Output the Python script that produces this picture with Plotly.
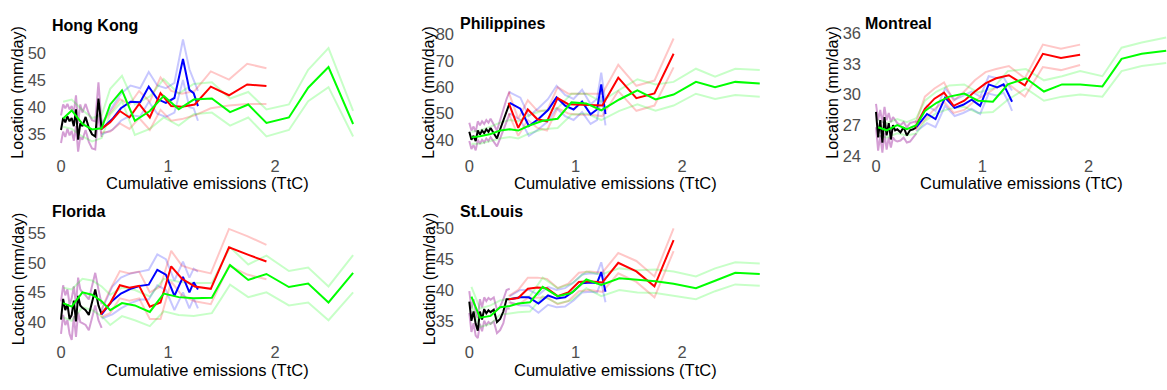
import plotly.graph_objects as go

W, H = 1167, 390

# ---------------- shared x grids (cumulative emissions, TtC) ----------------
hist_x = [0.0, 0.02, 0.04, 0.06, 0.08, 0.1, 0.12, 0.14, 0.16, 0.18, 0.2, 0.23, 0.26, 0.29, 0.32, 0.35, 0.38]
blue_x = [0.38, 0.48, 0.56, 0.65, 0.74, 0.82, 0.9, 0.98, 1.06, 1.14, 1.2, 1.24, 1.28]
red_x = [0.37, 0.46, 0.55, 0.64, 0.73, 0.83, 0.93, 1.03, 1.13, 1.25, 1.40, 1.57, 1.74, 1.92]
green_x = [0.02, 0.1, 0.2, 0.29, 0.38, 0.46, 0.57, 0.69, 0.83, 0.96, 1.1, 1.24, 1.41, 1.58, 1.75, 1.92, 2.13, 2.31, 2.5, 2.73]

# ---------------- Hong Kong ----------------
hk_hist = [35.8, 38.0, 37.2, 38.3, 37.4, 38.0, 36.5, 39.6, 34.0, 37.0, 36.5, 38.2, 36.2, 35.0, 34.6, 41.6, 35.9]
hk_hist_hi = [38.5, 40.5, 39.8, 40.6, 39.6, 40.2, 39.0, 42.2, 37.0, 40.5, 39.0, 40.6, 38.8, 37.6, 37.4, 44.6, 37.0]
hk_hist_lo = [33.4, 35.5, 34.5, 36.0, 34.8, 35.6, 33.8, 36.5, 31.8, 34.5, 34.0, 35.8, 33.6, 32.4, 32.2, 38.8, 34.5]
hk_blue = [36.0, 37.8, 39.8, 41.0, 40.9, 43.8, 41.5, 40.8, 41.7, 48.9, 43.2, 42.6, 40.2]
hk_blue_hi = [37.0, 40.0, 42.5, 44.0, 43.5, 46.5, 44.0, 43.5, 44.5, 52.5, 47.0, 45.0, 43.0]
hk_blue_lo = [35.0, 35.8, 37.5, 38.5, 38.3, 41.0, 38.8, 38.2, 39.0, 45.0, 40.0, 39.8, 37.5]
hk_red = [35.9, 37.2, 39.3, 38.1, 40.6, 38.1, 42.6, 40.2, 40.1, 40.5, 43.8, 42.2, 44.2, 43.9]
hk_red_hi = [36.5, 39.0, 41.5, 40.5, 43.0, 41.0, 45.5, 43.0, 42.5, 43.0, 46.6, 45.1, 48.0, 47.2]
hk_red_lo = [35.3, 35.5, 37.0, 36.0, 38.0, 35.8, 39.5, 37.5, 37.8, 38.5, 39.8, 40.3, 40.6, 40.6]
hk_green = [37.9, 39.4, 36.9, 35.9, 36.1, 40.5, 43.1, 37.5, 39.3, 42.1, 39.6, 41.4, 41.6, 39.1, 40.5, 37.1, 38.1, 43.6, 47.4, 36.9]
hk_green_hi = [41.0, 41.4, 39.5, 38.0, 38.5, 43.4, 45.8, 40.5, 42.0, 45.2, 42.5, 44.3, 44.6, 41.6, 42.8, 39.6, 40.5, 46.9, 50.9, 39.3]
hk_green_lo = [36.4, 36.0, 34.6, 33.7, 34.3, 38.7, 41.1, 34.9, 36.0, 38.1, 36.6, 38.7, 39.0, 36.6, 38.1, 34.6, 35.8, 41.1, 43.7, 34.6]

# ---------------- Philippines ----------------
ph_hist = [43.0, 40.0, 41.5, 39.5, 43.5, 42.0, 43.5, 42.5, 44.0, 43.0, 44.5, 42.5, 40.5, 44.0, 47.5, 51.0, 54.0]
ph_hist_hi = [46.5, 43.5, 45.0, 43.0, 47.0, 45.5, 47.0, 46.0, 47.5, 46.5, 48.0, 46.0, 43.5, 47.5, 51.5, 55.5, 58.5]
ph_hist_lo = [39.5, 36.5, 38.0, 36.0, 40.0, 38.5, 40.0, 39.0, 40.5, 39.5, 41.0, 39.0, 37.5, 40.5, 43.5, 47.0, 50.0]
ph_blue = [54.0, 51.8, 45.2, 47.9, 51.3, 56.1, 53.0, 51.5, 54.5, 49.7, 51.5, 61.0, 49.7]
ph_blue_hi = [58.0, 56.0, 49.0, 52.0, 55.5, 60.5, 57.0, 55.5, 59.0, 53.5, 55.5, 65.5, 54.0]
ph_blue_lo = [50.0, 47.5, 41.5, 44.0, 47.0, 52.0, 49.0, 47.5, 50.5, 46.0, 47.5, 56.5, 45.5]
ph_red = [54.0, 44.5, 51.5, 47.8, 47.0, 55.8, 53.5, 53.3, 53.3, 53.0, 63.6, 55.8, 57.6, 72.7]
ph_red_hi = [58.0, 48.0, 55.0, 51.0, 51.0, 60.0, 57.5, 57.5, 57.5, 57.5, 68.5, 60.5, 62.5, 78.5]
ph_red_lo = [50.0, 41.5, 47.5, 44.5, 43.5, 52.0, 50.0, 49.5, 49.5, 49.0, 58.5, 51.0, 53.0, 67.5]
ph_green = [40.9, 41.3, 42.2, 43.5, 44.0, 43.5, 45.5, 47.2, 48.0, 54.2, 53.8, 51.2, 55.3, 58.8, 55.3, 57.2, 62.0, 60.0, 62.0, 61.4]
ph_green_hi = [43.0, 43.5, 45.0, 46.5, 47.5, 47.0, 49.5, 51.0, 52.0, 57.5, 57.5, 54.5, 59.0, 63.0, 61.0, 62.0, 67.0, 64.0, 67.0, 66.5]
ph_green_lo = [38.5, 38.5, 39.5, 40.5, 41.0, 40.5, 42.5, 44.0, 44.5, 49.5, 50.0, 47.5, 51.0, 53.5, 51.0, 53.0, 57.5, 55.5, 57.0, 56.3]

# ---------------- Montreal ----------------
mo_hist = [28.3, 25.8, 27.5, 25.3, 27.8, 26.0, 27.2, 25.6, 27.0, 26.5, 26.6, 26.3, 26.8, 26.0, 26.5, 26.6, 26.8]
mo_hist_hi = [29.1, 27.5, 28.5, 27.2, 28.8, 27.5, 28.2, 27.3, 27.8, 27.5, 27.2, 27.0, 27.3, 26.8, 27.2, 27.3, 27.4]
mo_hist_lo = [26.8, 24.5, 26.0, 24.3, 26.2, 24.6, 25.8, 24.8, 25.8, 25.5, 25.4, 25.5, 25.8, 25.3, 25.4, 25.8, 26.2]
mo_blue = [26.8, 28.1, 27.6, 29.7, 28.7, 29.0, 29.5, 28.9, 31.0, 30.7, 31.0, 30.2, 29.3]
mo_blue_hi = [27.2, 28.9, 28.4, 30.6, 29.5, 29.9, 30.3, 29.8, 31.8, 31.6, 31.7, 31.0, 30.4]
mo_blue_lo = [26.4, 27.2, 26.8, 28.9, 27.9, 28.2, 28.6, 28.1, 30.1, 29.9, 30.2, 29.4, 28.4]
mo_red = [26.8, 28.6, 29.6, 30.2, 28.9, 29.4, 30.3, 31.1, 31.6, 31.9, 30.9, 34.0, 33.6, 33.9]
mo_red_hi = [27.1, 29.8, 30.6, 31.2, 29.4, 30.3, 31.4, 32.2, 32.5, 32.8, 31.6, 34.9, 34.5, 34.9]
mo_red_lo = [26.5, 27.6, 28.6, 29.3, 28.2, 28.5, 29.4, 30.0, 30.7, 31.0, 29.8, 32.7, 32.4, 32.9]
mo_green = [26.8, 26.5, 27.0, 26.6, 27.0, 28.4, 29.2, 29.8, 30.1, 29.4, 29.3, 31.0, 31.6, 30.3, 31.0, 31.0, 30.8, 33.5, 34.0, 34.3]
mo_green_hi = [27.5, 27.2, 27.6, 27.3, 27.7, 29.4, 30.3, 30.9, 31.0, 30.2, 30.6, 32.3, 32.5, 31.4, 31.8, 32.3, 31.8, 34.6, 35.1, 35.6]
mo_green_lo = [26.0, 25.8, 26.2, 26.0, 26.2, 27.4, 28.2, 28.6, 28.8, 28.2, 28.3, 29.5, 30.6, 29.4, 29.8, 30.0, 29.8, 32.3, 32.8, 33.1]

# ---------------- Florida ----------------
fl_hist = [40.4, 43.9, 42.0, 43.0, 40.5, 41.2, 43.6, 40.1, 44.4, 42.8, 42.4, 42.0, 41.2, 43.5, 45.5, 42.8, 41.3]
fl_hist_hi = [43.5, 46.2, 44.5, 45.5, 43.0, 44.0, 46.0, 43.0, 47.5, 45.5, 45.0, 44.5, 43.8, 46.0, 48.3, 45.5, 43.0]
fl_hist_lo = [38.0, 41.2, 39.5, 40.3, 38.0, 37.0, 41.0, 37.5, 41.6, 40.0, 39.8, 39.5, 38.6, 40.8, 42.8, 40.3, 39.0]
fl_blue = [41.3, 43.6, 44.8, 45.6, 46.1, 46.3, 48.8, 48.0, 44.4, 47.6, 45.0, 46.7, 45.5]
fl_blue_hi = [42.0, 46.0, 47.5, 48.2, 48.5, 48.8, 51.4, 50.6, 47.0, 50.2, 47.5, 49.0, 48.5]
fl_blue_lo = [40.6, 41.3, 42.3, 43.2, 43.8, 43.8, 46.2, 45.4, 42.0, 45.0, 42.3, 44.0, 42.3]
fl_red = [41.3, 43.2, 46.2, 45.8, 46.1, 42.6, 43.3, 49.4, 47.3, 46.0, 45.6, 52.6, 51.4, 50.2]
fl_red_hi = [41.8, 45.5, 48.6, 48.2, 48.5, 45.0, 46.0, 52.0, 49.5, 48.8, 48.2, 55.7, 54.5, 53.0]
fl_red_lo = [40.8, 41.5, 44.0, 43.6, 44.0, 40.5, 40.5, 46.8, 44.5, 43.5, 43.0, 49.5, 48.0, 47.2]
fl_green = [43.2, 42.6, 45.0, 44.6, 43.5, 42.0, 43.2, 42.8, 41.7, 44.8, 44.2, 44.0, 44.1, 49.6, 47.1, 48.1, 45.9, 46.5, 43.3, 48.3]
fl_green_hi = [45.8, 45.5, 47.3, 47.0, 46.0, 44.6, 45.8, 45.4, 44.3, 47.3, 46.8, 46.6, 46.6, 52.6, 49.7, 51.2, 48.6, 49.2, 46.0, 51.3]
fl_green_lo = [40.8, 40.2, 42.5, 42.0, 41.0, 39.5, 41.0, 40.3, 39.3, 41.8, 41.2, 41.0, 41.5, 46.3, 44.2, 45.0, 42.8, 43.3, 40.3, 45.0]

# ---------------- St.Louis ----------------
sl_hist = [38.1, 35.0, 36.5, 34.5, 33.4, 36.5, 35.2, 36.9, 36.2, 36.7, 36.4, 36.8, 34.8, 35.3, 36.5, 38.5, 38.5]
sl_hist_hi = [39.8, 37.0, 38.5, 36.5, 35.5, 38.5, 37.2, 38.8, 38.2, 38.7, 38.4, 38.8, 36.8, 37.3, 38.5, 40.0, 40.2]
sl_hist_lo = [36.3, 33.2, 34.6, 32.6, 32.2, 34.5, 33.3, 35.0, 34.3, 34.8, 34.5, 34.9, 33.0, 33.5, 34.6, 37.0, 37.0]
sl_blue = [38.5, 38.8, 38.8, 37.8, 39.1, 38.6, 38.8, 39.8, 41.1, 41.2, 41.1, 42.9, 39.7]
sl_blue_hi = [39.0, 40.0, 40.0, 39.2, 40.5, 40.0, 40.3, 41.2, 42.5, 42.7, 42.6, 44.5, 41.5]
sl_blue_lo = [38.0, 37.5, 37.5, 36.3, 37.6, 37.2, 37.3, 38.3, 39.6, 39.7, 39.6, 41.3, 38.0]
sl_red = [38.5, 38.7, 40.2, 40.4, 40.3, 39.0, 39.6, 41.3, 41.4, 41.2, 44.4, 43.0, 40.6, 48.1]
sl_red_hi = [39.0, 40.0, 42.0, 42.0, 41.8, 40.3, 41.0, 42.8, 43.0, 42.8, 46.0, 44.7, 42.2, 50.0]
sl_red_lo = [38.0, 37.6, 38.7, 38.8, 38.8, 37.7, 38.2, 39.8, 40.0, 39.7, 42.7, 41.3, 38.8, 46.3]
sl_green = [38.9, 35.5, 35.8, 37.2, 37.4, 37.8, 38.0, 40.5, 39.0, 39.5, 41.7, 40.8, 41.9, 41.7, 41.4, 41.0, 40.3, 41.5, 42.8, 42.6]
sl_green_hi = [40.5, 37.0, 37.5, 38.3, 38.6, 38.8, 39.0, 42.0, 40.3, 41.0, 43.0, 42.5, 43.5, 43.2, 43.3, 43.0, 42.2, 43.5, 44.5, 44.3]
sl_green_lo = [37.5, 34.0, 34.5, 36.0, 36.2, 36.4, 36.5, 39.0, 37.8, 38.3, 40.3, 39.0, 40.0, 39.6, 39.5, 39.0, 38.5, 39.8, 40.9, 40.7]

x_ticks = [0, 1, 2]

panels = [
    dict(name="Hong Kong",
         hist=(hk_hist, hk_hist_hi, hk_hist_lo), blue=(hk_blue, hk_blue_hi, hk_blue_lo),
         red=(hk_red, hk_red_hi, hk_red_lo), green=(hk_green, hk_green_hi, hk_green_lo),
         yticks=[35, 40, 45, 50],
         box=(47, 368, 25, 154), xcal=((0, 61), (1, 168)), ycal=((50, 46), (35, 131)),
         title_xy=(50, 17), ytitle_x=18, xtitle_y=182),
    dict(name="Philippines",
         hist=(ph_hist, ph_hist_hi, ph_hist_lo), blue=(ph_blue, ph_blue_hi, ph_blue_lo),
         red=(ph_red, ph_red_hi, ph_red_lo), green=(ph_green, ph_green_hi, ph_green_lo),
         yticks=[40, 50, 60, 70, 80],
         box=(455, 776, 25, 154), xcal=((0, 469.3), (1, 575.7)), ycal=((80, 26.7), (40, 136.7)),
         title_xy=(458, 15), ytitle_x=429, xtitle_y=182),
    dict(name="Montreal",
         hist=(mo_hist, mo_hist_hi, mo_hist_lo), blue=(mo_blue, mo_blue_hi, mo_blue_lo),
         red=(mo_red, mo_red_hi, mo_red_lo), green=(mo_green, mo_green_hi, mo_green_lo),
         yticks=[24, 27, 30, 33, 36],
         box=(862, 1167, 25, 154), xcal=((0, 876), (1, 982.3)), ycal=((36, 25.5), (24, 153.5)),
         title_xy=(863, 15), ytitle_x=833, xtitle_y=182),
    dict(name="Florida",
         hist=(fl_hist, fl_hist_hi, fl_hist_lo), blue=(fl_blue, fl_blue_hi, fl_blue_lo),
         red=(fl_red, fl_red_hi, fl_red_lo), green=(fl_green, fl_green_hi, fl_green_lo),
         yticks=[40, 45, 50, 55],
         box=(47, 368, 220, 349), xcal=((0, 61), (1, 168)), ycal=((55, 234.3), (40, 327.3)),
         title_xy=(50, 212), ytitle_x=18, xtitle_y=377),
    dict(name="St.Louis",
         hist=(sl_hist, sl_hist_hi, sl_hist_lo), blue=(sl_blue, sl_blue_hi, sl_blue_lo),
         red=(sl_red, sl_red_hi, sl_red_lo), green=(sl_green, sl_green_hi, sl_green_lo),
         yticks=[35, 40, 45, 50],
         box=(455, 776, 220, 349), xcal=((0, 469.3), (1, 575.7)), ycal=((50, 229.3), (35, 326)),
         title_xy=(458, 212), ytitle_x=429, xtitle_y=377),
]

FAINT = dict(hist="rgba(160,40,160,0.45)", blue="rgba(0,0,255,0.22)",
             red="rgba(255,0,0,0.22)", green="rgba(0,255,0,0.22)")
MAIN = dict(hist="#000000", blue="#0000FF", red="#FF0000", green="#00FF00")
XS = dict(hist=hist_x, blue=blue_x, red=red_x, green=green_x)

FONT = "Liberation Sans, Arial, sans-serif"
TICKFONT = dict(size=16.5, color="#4D4D4D", family=FONT)
fig = go.Figure()
layout = dict(width=W, height=H, margin=dict(l=0, r=0, t=0, b=0),
              paper_bgcolor="white", plot_bgcolor="white", showlegend=False,
              font=dict(family=FONT))
annotations = []


def cal_range(lo_px, hi_px, cal):
    (v0, p0), (v1, p1) = cal
    s = (p1 - p0) / (v1 - v0)
    return [v0 + (lo_px - p0) / s, v0 + (hi_px - p0) / s]


for i, p in enumerate(panels):
    k = "" if i == 0 else str(i + 1)
    xa, ya = "x" + k, "y" + k
    left, right, top, bottom = p["box"]
    xr = cal_range(left, right, p["xcal"])
    yr = cal_range(bottom, top, p["ycal"])
    layout["xaxis" + k] = dict(domain=[left / W, right / W], range=xr, anchor=ya,
                               tickvals=x_ticks, showgrid=False, zeroline=False, showline=False,
                               ticks="", tickfont=TICKFONT, ticklabelstandoff=-2,
                               fixedrange=True)
    layout["yaxis" + k] = dict(domain=[1 - bottom / H, 1 - top / H], range=yr, anchor=xa,
                               tickvals=p["yticks"], showgrid=False, zeroline=False, showline=False,
                               ticks="", tickfont=TICKFONT,
                               fixedrange=True)
    # faint bands
    for s in ["hist", "blue", "red", "green"]:
        _, hi, lo = p[s]
        for arr in (hi, lo):
            fig.add_trace(go.Scatter(x=XS[s], y=arr, mode="lines", xaxis=xa, yaxis=ya,
                                     line=dict(color=FAINT[s], width=2), hoverinfo="skip"))
    # main lines
    for s in ["hist", "blue", "red", "green"]:
        fig.add_trace(go.Scatter(x=XS[s], y=p[s][0], mode="lines", xaxis=xa, yaxis=ya,
                                 line=dict(color=MAIN[s], width=2)))
    tx, ty = p["title_xy"]
    annotations.append(dict(text="<b>" + p["name"] + "</b>", x=tx / W, y=1 - ty / H,
                            xref="paper", yref="paper", xanchor="left", yanchor="middle",
                            showarrow=False, font=dict(size=16, color="black", family=FONT)))
    annotations.append(dict(text="Location (mm/day)", x=p["ytitle_x"] / W,
                            y=1 - ((top + bottom) / 2 - 2) / H, xref="paper", yref="paper",
                            xanchor="center", yanchor="middle", textangle=-90, showarrow=False,
                            font=dict(size=16, color="black", family=FONT)))
    annotations.append(dict(text="Cumulative emissions (TtC)", x=((left + right) / 2 if right < W else (left + 1181) / 2) / W,
                            y=1 - p["xtitle_y"] / H, xref="paper", yref="paper",
                            xanchor="center", yanchor="middle", showarrow=False,
                            font=dict(size=16.5, color="black", family=FONT)))

layout["annotations"] = annotations
fig.update_layout(**layout)
fig.write_html("out.html", config=dict(displayModeBar=False))
